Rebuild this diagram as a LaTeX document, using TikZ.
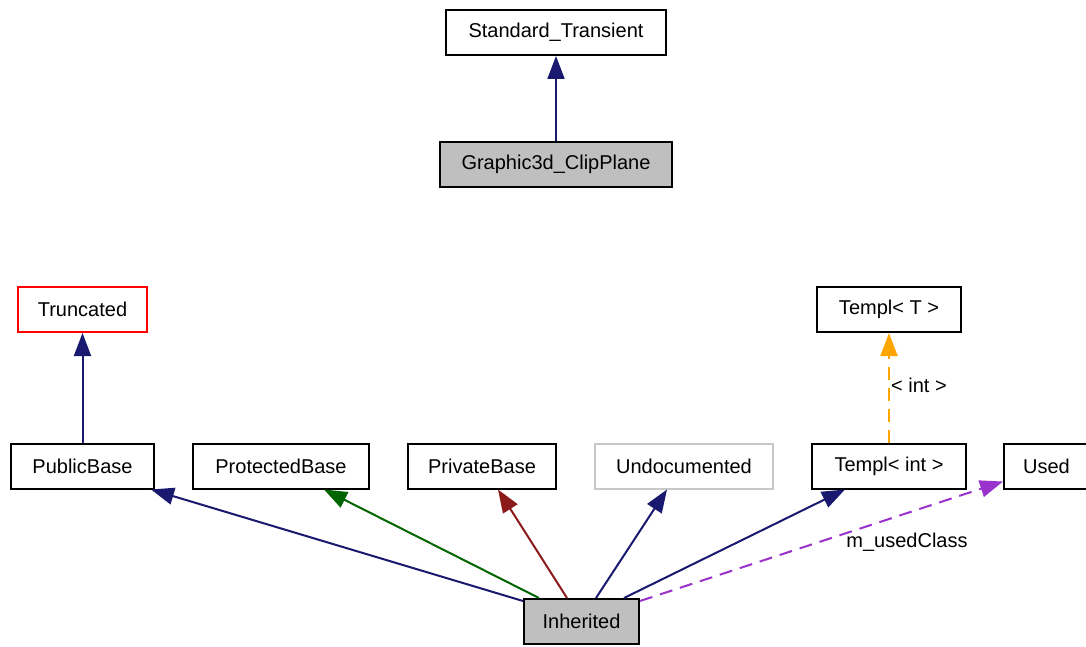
\documentclass[tikz,border=0pt]{standalone}
\usepackage{fontspec}
\setmainfont{Liberation Sans}
\usetikzlibrary{arrows.meta}
\definecolor{navyedge}{RGB}{25,25,112}
\definecolor{greenedge}{RGB}{0,100,0}
\definecolor{rededge}{RGB}{139,26,26}
\definecolor{orangeedge}{RGB}{255,165,0}
\definecolor{purpleedge}{RGB}{154,50,205}
\definecolor{nodegray}{RGB}{191,191,191}
\definecolor{undocgray}{RGB}{200,200,200}
\begin{document}
\begin{tikzpicture}[x=1pt,y=-1pt,
  box/.style={draw=black, line width=2pt, fill=white, inner sep=0pt,
    minimum height=45pt, font=\fontsize{20}{24}\selectfont},
  current/.style={box, fill=nodegray},
  lbl/.style={font=\fontsize{20}{24}\selectfont, inner sep=0pt},
  inh/.style={line width=2pt, -{Triangle[length=23pt,width=17pt]}},
  usedash/.style={line width=2pt, dash pattern=on 13pt off 8pt, -{Triangle[length=23pt,width=17pt]}}
]
\useasboundingbox (0,0) rectangle (1086,647);
\clip (0,0) rectangle (1086,647);
\fill[white] (0,0) rectangle (1086,647);

% top graph
\node[box, minimum width=220pt] (st) at (556,32.5) {Standard\_Transient};
\node[current, minimum width=232pt] (gc) at (556,164.5) {Graphic3d\_ClipPlane};
\draw[inh, navyedge] (gc) -- (st);

% legend graph
\node[box, draw=red, minimum width=129pt] (tr) at (82.5,309.5) {Truncated};
\node[box, minimum width=144pt] (tt) at (889,309.5) {Templ< T >};
\node[box, minimum width=143pt] (pb) at (82.5,466) {PublicBase};
\node[box, minimum width=176pt] (prot) at (281,466) {ProtectedBase};
\node[box, minimum width=148pt] (priv) at (482,466) {PrivateBase};
\node[box, draw=undocgray, minimum width=178pt] (und) at (684,466) {Undocumented};
\node[box, minimum width=154pt] (ti) at (889,466) {Templ< int >};
\node[box, minimum width=85pt] (used) at (1046.5,466) {Used};
\node[current, minimum width=115pt] (in) at (581.5,621.5) {Inherited};

\draw[inh, navyedge] (pb) -- (tr);
\draw[inh, navyedge] ([yshift=-3pt]in.north west) -- ([xshift=-4pt]pb.south east);
\draw[inh, greenedge] ([xshift=16pt]in.north west) -- ([xshift=-46pt]prot.south east);
\draw[inh, rededge] ([xshift=44pt]in.north west) -- ([xshift=-59pt]priv.south east);
\draw[inh, navyedge] ([xshift=73pt]in.north west) -- ([xshift=73pt]und.south west);
\draw[inh, navyedge] ([xshift=101pt]in.north west) -- ([xshift=34pt]ti.south west);
\draw[usedash, purpleedge] ([yshift=-3pt]in.north east) -- ([yshift=8pt]used.south west);
\node[lbl] (ul) at (907,542) {m\_usedClass};
\draw[usedash, orangeedge] (ti) -- (tt);
\node[lbl] (il) at (919,385) {< int >};
\end{tikzpicture}
\end{document}
